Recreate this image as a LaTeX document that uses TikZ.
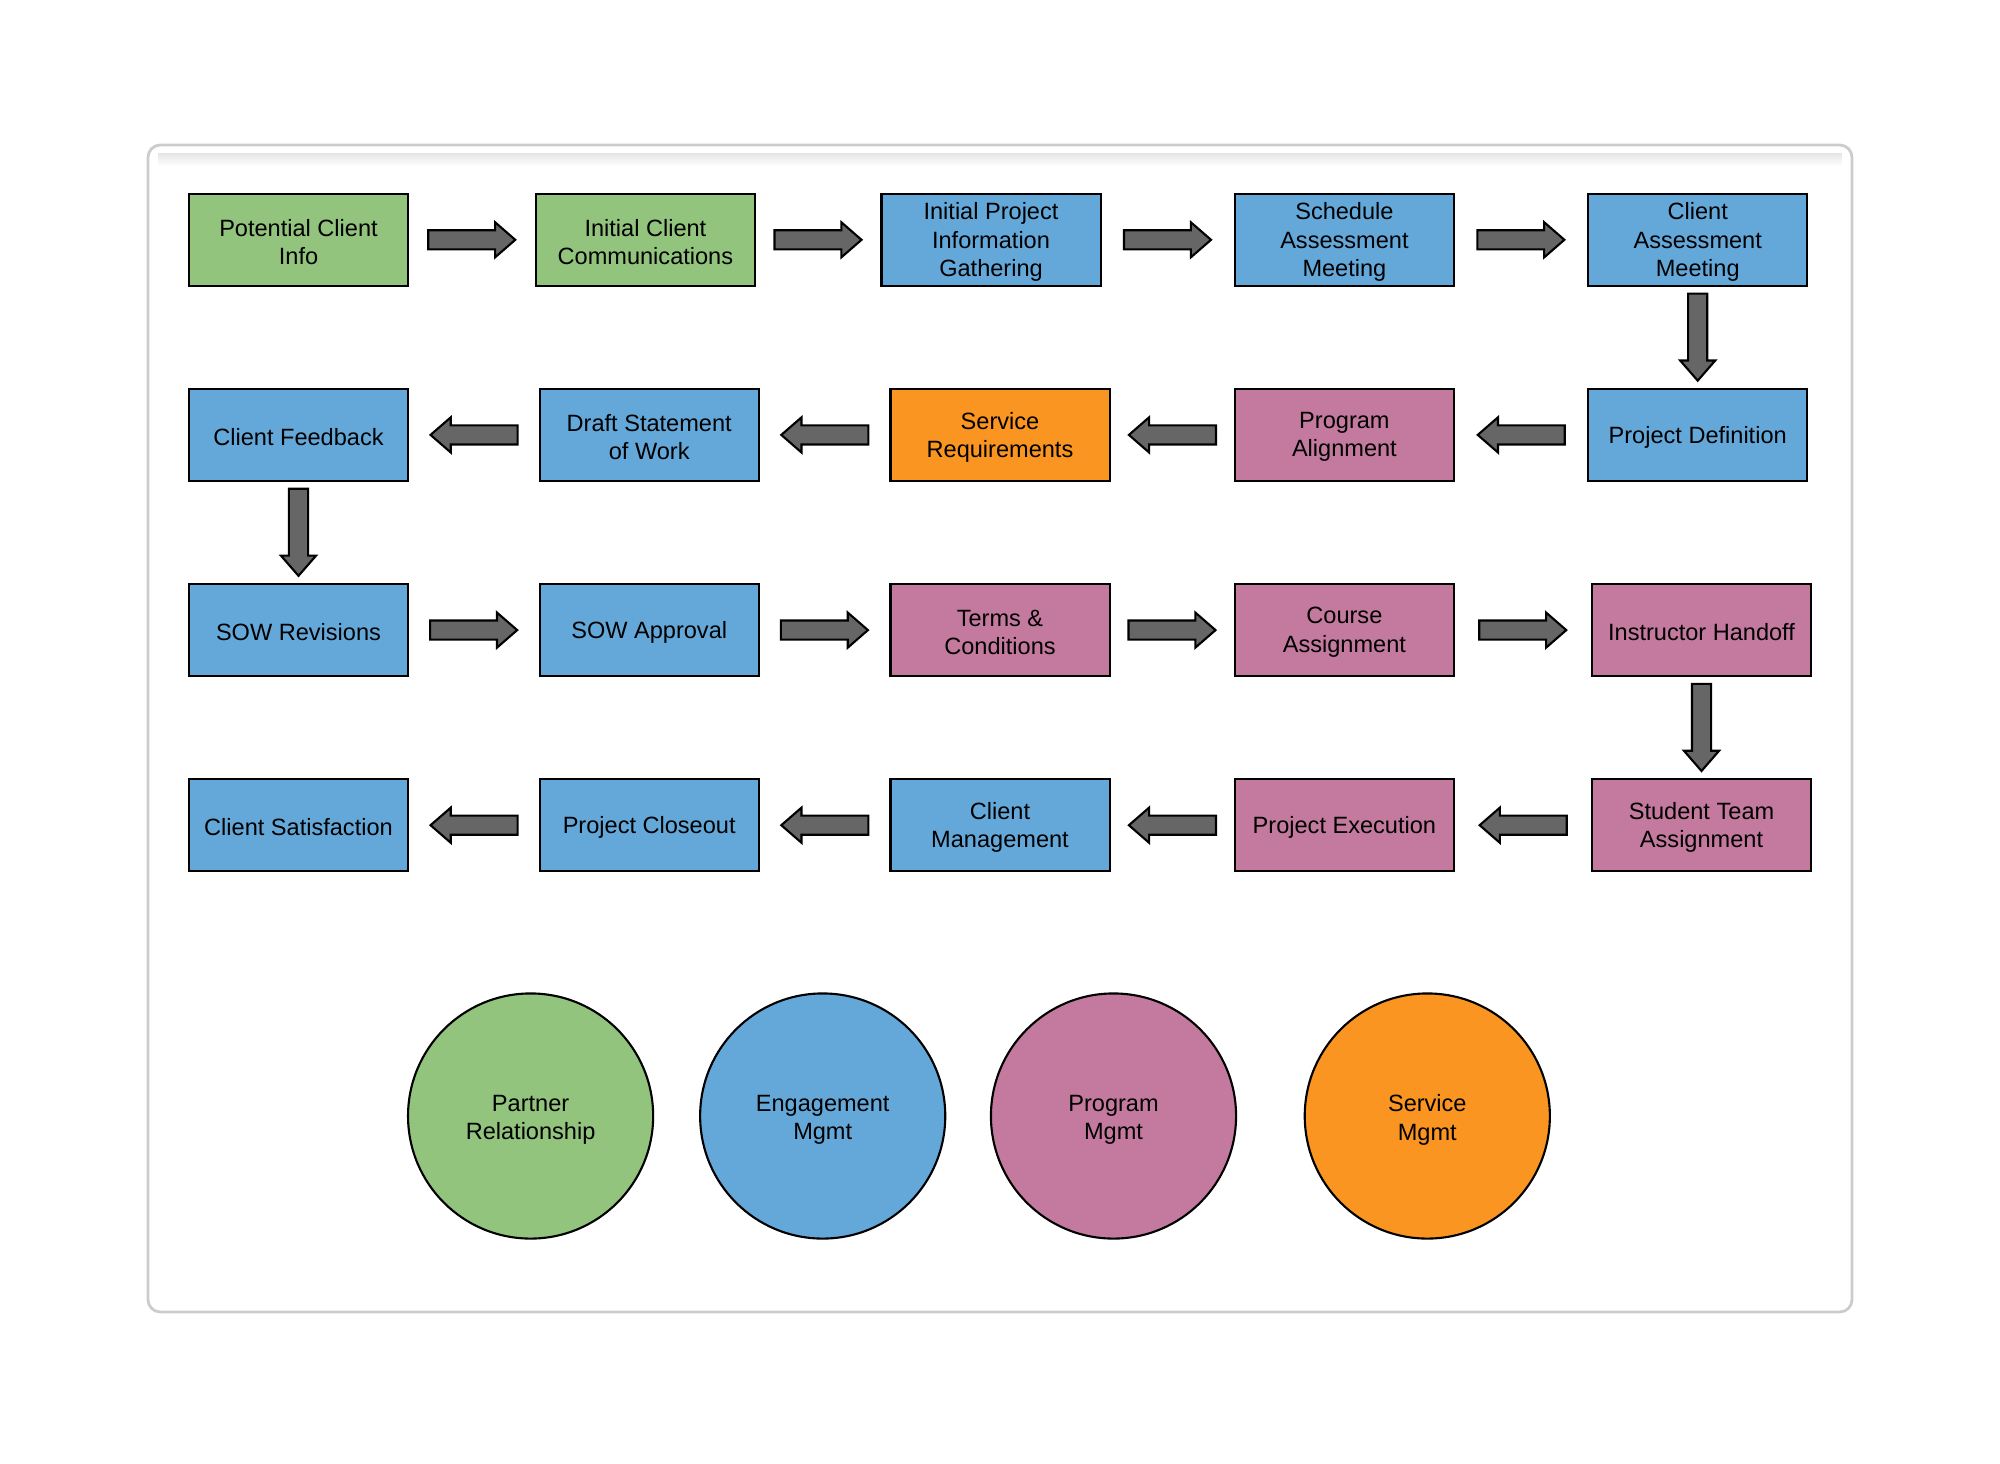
\documentclass[tikz,border=0pt]{standalone}
\usepackage{fontspec}
\setmainfont{Liberation Sans}
\usetikzlibrary{shapes.arrows}
\definecolor{partnergreen}{HTML}{92C47D}
\definecolor{engageblue}{HTML}{64A8DA}
\definecolor{programpink}{HTML}{C47A9F}
\definecolor{serviceorange}{HTML}{F99520}
\definecolor{flowgray}{HTML}{666666}
\newsavebox{\labelbox}
\begin{document}
\begin{tikzpicture}[x=0.01cm,y=-0.01cm]

    \tikzset{
      stage/.style={
        draw=black,
        line width=0.6pt,
        minimum width=2.19cm,
        minimum height=0.92cm,
        inner sep=1pt,
        align=center,
        font=\fontsize{6.7}{8}\selectfont,
        execute at begin node={\setbox\labelbox=\hbox\bgroup},
        execute at end node={\egroup\raisebox{-0.6pt}[\ht\labelbox][\dp\labelbox]{\copy\labelbox}},
      },
      area/.style={
        draw=black,
        line width=0.6pt,
        circle,
        minimum size=2.45cm,
        inner sep=0pt,
        align=center,
        font=\fontsize{6.7}{8}\selectfont,
        execute at begin node={\setbox\labelbox=\hbox\bgroup},
        execute at end node={\egroup\raisebox{-1.1pt}[\ht\labelbox][\dp\labelbox]{\copy\labelbox}},
      },
      flow/.style={
        single arrow,
        draw=black,
        line width=0.6pt,
        fill=flowgray,
        inner xsep=0pt,
        inner ysep=0.085cm,
        minimum height=0.87cm,
        single arrow head extend=0.08cm,
        single arrow tip angle=82,
        sloped,
        allow upside down,
        xshift=-0.057cm,
      },
    }
    \useasboundingbox (0,0) rectangle (2000,1463);
    \draw[draw=black!20, line width=0.8pt, rounded corners=3.5pt] (148,145) rectangle (1852,1312);
    \shade[top color=black!10, bottom color=white] (158,153) rectangle (1842,166);

	% row 1
	\node[stage, fill=partnergreen] (pci) at (298.5,239.8) {Potential Client\\Info};
	\node[stage, fill=partnergreen] (icc) at (645.4,239.8) {Initial Client\\Communications};
	\node[stage, fill=engageblue] (ipi) at (991,239.8) {Initial Project\\Information\\Gathering};
	\node[stage, fill=engageblue] (sam) at (1344.4,239.8) {Schedule\\Assessment\\Meeting};
	\node[stage, fill=engageblue] (cam) at (1697.7,239.8) {Client\\Assessment\\Meeting};
	% row 2
	\node[stage, fill=engageblue] (cfb) at (298.5,434.9) {Client Feedback};
	\node[stage, fill=engageblue] (dsw) at (649.2,434.9) {Draft Statement\\of Work};
	\node[stage, fill=serviceorange] (srq) at (1000,434.9) {Service\\Requirements};
	\node[stage, fill=programpink] (pal) at (1344.4,434.9) {Program\\Alignment};
	\node[stage, fill=engageblue] (pdf) at (1697.7,434.9) {Project Definition};
	% row 3
	\node[stage, fill=engageblue] (swr) at (298.5,630.1) {SOW Revisions};
	\node[stage, fill=engageblue] (swa) at (649.2,630.1) {SOW Approval};
	\node[stage, fill=programpink] (tac) at (1000,630.1) {Terms \&\\Conditions};
	\node[stage, fill=programpink] (cas) at (1344.4,630.1) {Course\\Assignment};
	\node[stage, fill=programpink] (iho) at (1701.5,630.1) {Instructor Handoff};
	% row 4
	\node[stage, fill=engageblue] (csa) at (298.5,825.2) {Client Satisfaction};
	\node[stage, fill=engageblue] (pco) at (649.2,825.2) {Project Closeout};
	\node[stage, fill=engageblue] (cmg) at (1000,825.2) {Client\\Management};
	\node[stage, fill=programpink] (pex) at (1344.4,825.2) {Project Execution};
	\node[stage, fill=programpink] (sta) at (1701.5,825.2) {Student Team\\Assignment};

	% flow arrows
	\path (pci) -- node[flow] {} (icc);
	\path (icc) -- node[flow] {} (ipi);
	\path (ipi) -- node[flow] {} (sam);
	\path (sam) -- node[flow] {} (cam);
	\path (cam) -- node[flow] {} (pdf);
	\path (pdf) -- node[flow] {} (pal);
	\path (pal) -- node[flow] {} (srq);
	\path (srq) -- node[flow] {} (dsw);
	\path (dsw) -- node[flow] {} (cfb);
	\path (cfb) -- node[flow] {} (swr);
	\path (swr) -- node[flow] {} (swa);
	\path (swa) -- node[flow] {} (tac);
	\path (tac) -- node[flow] {} (cas);
	\path (cas) -- node[flow] {} (iho);
	\path (iho) -- node[flow] {} (sta);
	\path (sta) -- node[flow] {} (pex);
	\path (pex) -- node[flow] {} (cmg);
	\path (cmg) -- node[flow] {} (pco);
	\path (pco) -- node[flow] {} (csa);

	% legend
	\node[area, fill=partnergreen] (prel) at (530.6,1116) {Partner\\Relationship};
	\node[area, fill=engageblue] (emg) at (822.7,1116) {Engagement\\Mgmt};
	\node[area, fill=programpink] (pmg) at (1113.5,1116) {Program\\Mgmt};
	\node[area, fill=serviceorange] (smg) at (1427.3,1116) {Service\\Mgmt};

\end{tikzpicture}
\end{document}
